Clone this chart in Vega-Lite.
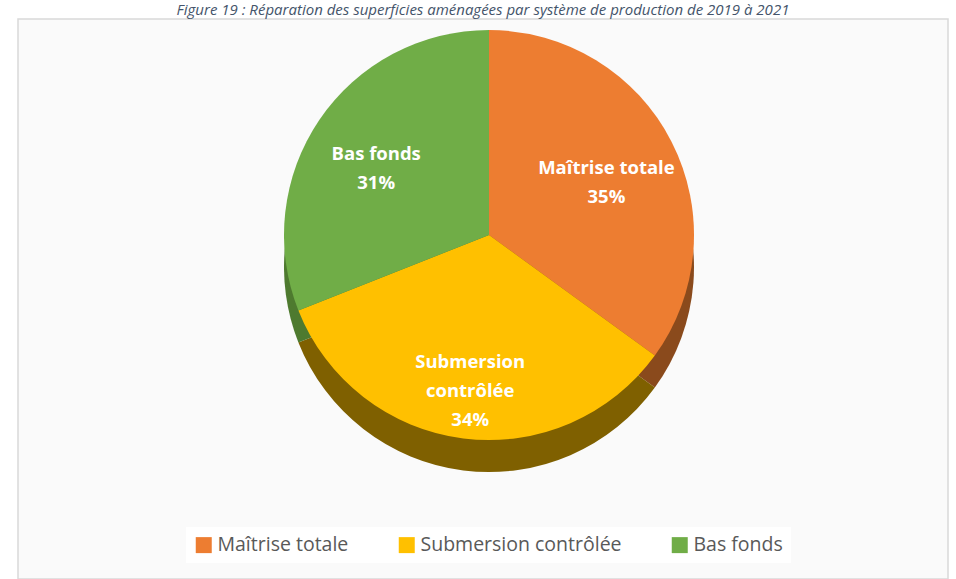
{
  "$schema": "https://vega.github.io/schema/vega-lite/v6.json",
  "autosize": {"type": "fit", "contains": "padding"},
  "width": 956,
  "height": 579,
  "padding": {"left": 18, "right": 8, "top": 3, "bottom": 0},
  "background": "white",
  "title": {
    "text": "Figure 19 : Réparation des superficies aménagées par système de production de 2019 à 2021",
    "font": "Open Sans",
    "fontSize": 15,
    "fontStyle": "italic",
    "fontWeight": "normal",
    "color": "#44546A",
    "anchor": "middle",
    "offset": 1
  },
  "view": {"stroke": "#d9d9d9", "strokeWidth": 1.5, "fill": "#fafafa"},
  "data": {
    "values": [
      {"category": "Maîtrise totale", "share": 35, "order": 1, "label": "Maîtrise totale\n35%"},
      {"category": "Submersion contrôlée", "share": 34, "order": 2, "label": "Submersion\ncontrôlée\n34%"},
      {"category": "Bas fonds", "share": 31, "order": 3, "label": "Bas fonds\n31%"}
    ]
  },
  "resolve": {"scale": {"color": "independent"}},
  "layer": [
    {
      "mark": {"type": "arc", "outerRadius": 205, "yOffset": -32, "xOffset": 6},
      "encoding": {
        "theta": {"field": "share", "type": "quantitative", "stack": true},
        "order": {"field": "order", "type": "quantitative"},
        "color": {
          "field": "category",
          "type": "nominal",
          "sort": ["Maîtrise totale", "Submersion contrôlée", "Bas fonds"],
          "scale": {"domain": ["Maîtrise totale", "Submersion contrôlée", "Bas fonds"], "range": ["#8a4a1c", "#7f6000", "#4e7a2f"]},
          "legend": null
        }
      }
    },
    {
      "mark": {"type": "arc", "outerRadius": 205, "yOffset": -64, "xOffset": 6},
      "encoding": {
        "theta": {"field": "share", "type": "quantitative", "stack": true},
        "order": {"field": "order", "type": "quantitative"},
        "color": {
          "field": "category",
          "type": "nominal",
          "sort": ["Maîtrise totale", "Submersion contrôlée", "Bas fonds"],
          "scale": {"domain": ["Maîtrise totale", "Submersion contrôlée", "Bas fonds"], "range": ["#ED7D31", "#FFC000", "#70AD47"]},
          "legend": {
            "title": null,
            "orient": "none",
            "direction": "horizontal",
            "legendX": 168,
            "legendY": 508,
            "fillColor": "white",
            "padding": 8,
            "columns": 3,
            "columnPadding": 48,
            "symbolType": "square",
            "symbolSize": 256,
            "symbolStrokeWidth": 0,
            "symbolOpacity": 1,
            "labelFont": "Open Sans",
            "labelFontSize": 19.5,
            "labelColor": "#595959",
            "labelLimit": 300,
            "labelOffset": 4
          }
        }
      }
    },
    {
      "mark": {
        "type": "text",
        "radius": 134,
        "yOffset": -70,
        "xOffset": 4,
        "font": "Open Sans",
        "fontSize": 18.5,
        "fontWeight": "bold",
        "fill": "white",
        "lineBreak": "\n",
        "lineHeight": 29,
        "baseline": "middle",
        "align": "center"
      },
      "encoding": {
        "theta": {"field": "share", "type": "quantitative", "stack": true},
        "order": {"field": "order", "type": "quantitative"},
        "text": {"field": "label", "type": "nominal"}
      }
    }
  ]
}
